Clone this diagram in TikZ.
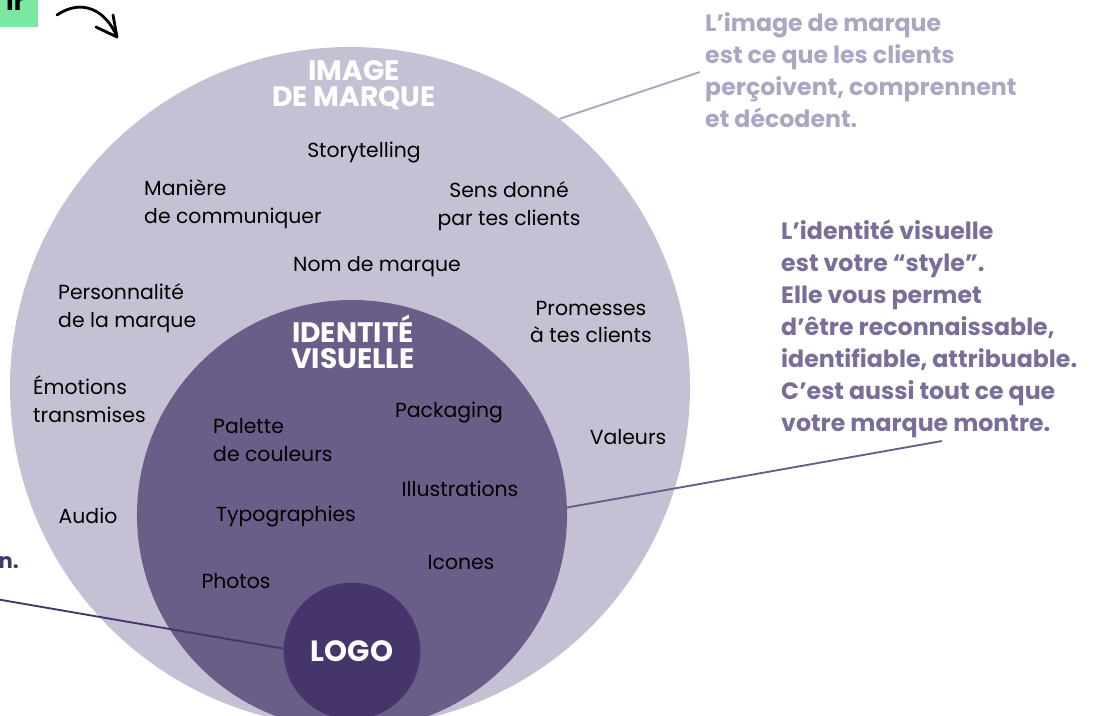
\documentclass[tikz,border=0pt]{standalone}
\usepackage{fontspec}
\setmainfont{Poppins}
\usepackage{tikz}
\definecolor{lavande}{HTML}{C5C0D4}
\definecolor{violet}{HTML}{6A5D88}
\definecolor{prune}{HTML}{46356A}
\definecolor{grisclair}{HTML}{ADA6C3}
\definecolor{grisviolet}{HTML}{7A6E98}
\definecolor{vert}{HTML}{7BE8A2}

\begin{document}
\begin{tikzpicture}[x=0.03cm,y=-0.03cm,
  rond/.style={circle, inner sep=0pt},
  lbl/.style={font=\fontsize{17.4}{23.5}\selectfont, text=black, inner sep=0pt},
  titre/.style={font=\fontsize{24}{22}\selectfont\bfseries, text=white, align=center, inner sep=0pt},
  texte/.style={font=\fontsize{20.2}{27.3}\selectfont\bfseries, align=left, inner sep=0pt, anchor=west}]
\clip (0,0) rectangle (1096,715);
% cercles
\node[rond, fill=lavande, minimum size=20.4cm] (image) at (350,387) {};
\node[rond, fill=violet, minimum size=12.9cm] (ident) at (352,515) {};
\node[rond, fill=prune, minimum size=4.1cm, text=white, font=\fontsize{25}{25}\selectfont\bfseries] (logo) at (352,651) {LOGO};

\node[titre] (titreimage) at (354,85) {IMAGE\\DE MARQUE};
\node[titre] (titreident) at (353,342) {IDENTITÉ\\VISUELLE};

% textes a droite
\node[texte, text=grisclair] (textimage) at (705,70) {L’image de marque\\est ce que les clients\\perçoivent, comprennent\\et décodent.};
\node[texte, text=grisviolet] (textident) at (781,329) {L’identité visuelle\\est votre “style”.\\Elle vous permet\\d’être reconnaissable,\\identifiable, attribuable.\\C’est aussi tout ce que\\votre marque montre.};
\coordinate (boutimage) at (700,72);
\coordinate (boutident) at (942,441);
\coordinate (boutlogo) at (-10,598);
\draw[grisclair, line width=1.6pt] (image.52) -- (boutimage);
\draw[violet, line width=1.6pt] (ident.2) -- (boutident);
\draw[prune, line width=1.6pt] (logo.178) -- (boutlogo);

% image de marque
\node[lbl] (story) at (364,152) {Storytelling};
\node[lbl, align=left, anchor=west] (maniere) at (144,204) {Manière\\de communiquer};
\node[lbl, align=center] (sens) at (509,206) {Sens donné\\par tes clients};
\node[lbl] (nom) at (377,267) {Nom de marque};
\node[lbl, align=left, anchor=west] (perso) at (58,308) {Personnalité\\de la marque};
\node[lbl, align=center] (promesses) at (591,322) {Promesses\\à tes clients};
\node[lbl, align=left, anchor=west] (emotions) at (33,399) {Émotions\\transmises};
\node[lbl] (valeurs) at (628,437) {Valeurs};
\node[lbl] (audio) at (88,516) {Audio};

% identite visuelle
\node[lbl, align=left, anchor=west] (palette) at (213,440) {Palette\\de couleurs};
\node[lbl] (packaging) at (449,412) {Packaging};
\node[lbl] (illus) at (460,489) {Illustrations};
\node[lbl] (typo) at (286,516) {Typographies};
\node[lbl] (icones) at (461,562) {Icones};
\node[lbl] (photos) at (236,581) {Photos};

% bords coupes
\node[fill=vert, anchor=south east, inner xsep=11pt, inner ysep=13.7pt, font=\fontsize{22}{22}\selectfont\bfseries] (bouton) at (38,27) {ir};
\node[anchor=east, inner sep=0pt, text=prune, font=\fontsize{18}{18}\selectfont\bfseries] (fin) at (19,563) {n.};
\coordinate (depart) at (57,15);
\coordinate (pointe) at (117,37);
\draw[line width=2.4pt, line cap=round, line join=round] (depart) .. controls (82,-2) and (106,10) .. (pointe);
\draw[line width=2.4pt, line cap=round, line join=round] (113,15) -- (pointe) -- (96,27);
\end{tikzpicture}
\end{document}
